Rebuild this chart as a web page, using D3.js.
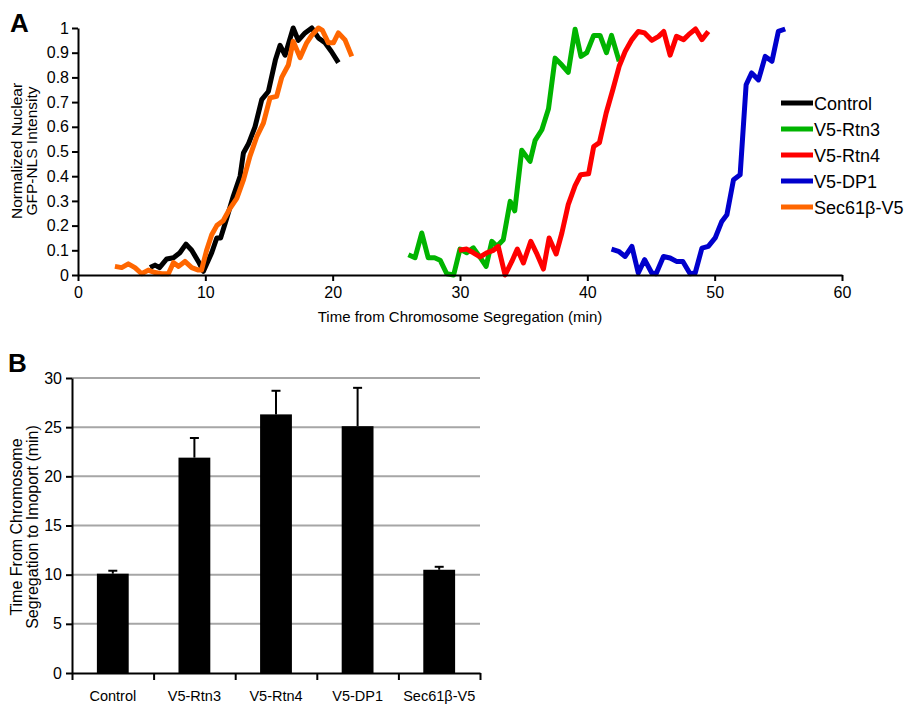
<!DOCTYPE html>
<html>
<head>
<meta charset="utf-8">
<script src="https://cdn.jsdelivr.net/npm/d3@7"></script>
<style>
  body { margin: 0; background: #fff; }
  svg { display: block; font-family: "Liberation Sans", Arial, sans-serif; }
</style>
</head>
<body>
<div id="chart"></div>
<script>
// ---- Panel A data (minutes from chromosome segregation, normalized intensity)
var controlTime = [5.66, 6.05, 6.4, 6.97, 7.5, 8.0, 8.48, 8.93, 9.45, 9.85, 10.5, 10.9, 11.2, 11.68, 12.2, 12.73, 12.99, 13.38, 13.9, 14.43, 14.95, 15.5, 15.87, 16.26, 16.9, 17.3, 17.83, 18.36, 18.88, 19.4, 19.9, 20.45];
var controlValue = [0.03, 0.04, 0.03, 0.065, 0.07, 0.09, 0.125, 0.10, 0.055, 0.015, 0.09, 0.15, 0.15, 0.23, 0.32, 0.40, 0.494, 0.53, 0.60, 0.71, 0.743, 0.87, 0.93, 0.89, 1.0, 0.95, 0.98, 1.0, 0.96, 0.94, 0.905, 0.86];

var rtn3Time = [25.95, 26.47, 27.0, 27.5, 28.0, 28.44, 28.96, 29.5, 30.0, 30.53, 31.05, 31.6, 32.05, 32.5, 32.9, 33.4, 33.94, 34.3, 34.85, 35.5, 35.9, 36.43, 36.95, 37.47, 38.0, 38.5, 39.04, 39.5, 39.96, 40.5, 41.0, 41.5, 41.9, 42.5];
var rtn3Value = [0.082, 0.07, 0.17, 0.07, 0.07, 0.06, 0.005, 0, 0.105, 0.09, 0.11, 0.07, 0.035, 0.136, 0.116, 0.143, 0.298, 0.26, 0.505, 0.46, 0.545, 0.588, 0.673, 0.878, 0.85, 0.82, 0.995, 0.885, 0.9, 0.97, 0.97, 0.9, 0.97, 0.865];

var rtn4Time = [29.9, 30.53, 31.05, 31.58, 32.1, 32.62, 33.0, 33.54, 34.07, 34.5, 34.98, 35.56, 36.0, 36.55, 37.0, 37.55, 38.0, 38.5, 39.04, 39.48, 40.1, 40.5, 40.95, 41.48, 42.0, 42.5, 42.97, 43.5, 44.0, 44.5, 45.06, 45.6, 46.0, 46.5, 47.0, 47.56, 47.95, 48.5, 49.0, 49.5];
var rtn4Value = [0.10, 0.105, 0.09, 0.073, 0.09, 0.10, 0.116, 0.0, 0.055, 0.105, 0.049, 0.136, 0.09, 0.024, 0.15, 0.085, 0.17, 0.285, 0.362, 0.406, 0.41, 0.52, 0.536, 0.656, 0.75, 0.845, 0.905, 0.953, 0.986, 0.98, 0.95, 0.966, 0.986, 0.89, 0.966, 0.953, 0.973, 0.996, 0.953, 0.986];

var dp1Time = [41.9, 42.45, 42.97, 43.5, 44.0, 44.5, 45.06, 45.4, 45.98, 46.5, 47.0, 47.5, 48.07, 48.47, 49.0, 49.5, 50.04, 50.56, 50.96, 51.48, 52.0, 52.47, 52.9, 53.44, 53.97, 54.5, 55.0, 55.54];
var dp1Value = [0.105, 0.096, 0.075, 0.116, 0.008, 0.062, 0.008, 0.005, 0.075, 0.069, 0.055, 0.055, 0.005, 0.008, 0.109, 0.116, 0.15, 0.217, 0.244, 0.386, 0.406, 0.77, 0.818, 0.79, 0.885, 0.865, 0.986, 0.996];

var secTime = [2.9, 3.43, 3.95, 4.47, 5.0, 5.52, 6.05, 6.57, 7.1, 7.49, 7.9, 8.4, 8.93, 9.45, 9.7, 10.1, 10.5, 10.9, 11.4, 11.94, 12.47, 13.0, 13.5, 14.04, 14.56, 15.08, 15.6, 16.0, 16.52, 16.9, 17.44, 17.96, 18.35, 18.88, 19.2, 19.66, 20.06, 20.45, 20.97, 21.5];
var secValue = [0.035, 0.03, 0.045, 0.03, 0.005, 0.02, 0.01, 0.005, 0.005, 0.05, 0.035, 0.055, 0.03, 0.02, 0.02, 0.10, 0.163, 0.20, 0.22, 0.27, 0.31, 0.386, 0.48, 0.56, 0.615, 0.717, 0.723, 0.80, 0.85, 0.946, 0.88, 0.94, 0.97, 1.0, 0.99, 0.94, 0.94, 0.98, 0.952, 0.885];

var seriesNames = ["Control", "V5-Rtn3", "V5-Rtn4", "V5-DP1", "Sec61β-V5"];
var seriesColors = ["#000000", "#00b400", "#ff0000", "#0000cc", "#ff6600"];

var xTicksA = [0, 10, 20, 30, 40, 50, 60];
var yTicksA = [0, 0.1, 0.2, 0.3, 0.4, 0.5, 0.6, 0.7, 0.8, 0.9, 1];

// ---- Panel B data
var barNames = ["Control", "V5-Rtn3", "V5-Rtn4", "V5-DP1", "Sec61β-V5"];
var barMean = [10.1, 21.9, 26.3, 25.1, 10.5];
var barError = [0.3, 2.0, 2.4, 3.9, 0.3];
var yTicksB = [0, 5, 10, 15, 20, 25, 30];

var svg = d3.select("#chart").append("svg")
    .attr("width", 907)
    .attr("height", 706);

// ================= Panel A =================
var x = d3.scaleLinear().domain([0, 60]).range([78, 842]);
var y = d3.scaleLinear().domain([0, 1]).range([275, 28]);

var series = [
  { time: controlTime, value: controlValue },
  { time: rtn3Time, value: rtn3Value },
  { time: rtn4Time, value: rtn4Value },
  { time: dp1Time, value: dp1Value },
  { time: secTime, value: secValue }
].map(function(s, i) {
  return {
    name: seriesNames[i],
    color: seriesColors[i],
    points: s.time.map(function(t, j) { return [t, s.value[j]]; })
  };
});

var line = d3.line()
    .x(function(d) { return x(d[0]); })
    .y(function(d) { return y(d[1]); });

var gA = svg.append("g");

// draw order: lines behind one another as in the original
[1, 2, 3, 0, 4].forEach(function(i) {
  gA.append("path")
      .datum(series[i].points)
      .attr("fill", "none")
      .attr("stroke", series[i].color)
      .attr("stroke-width", 5)
      .attr("stroke-linejoin", "round")
      .attr("d", line);
});

var xAxisA = gA.append("g")
    .attr("transform", "translate(0," + y(0) + ")")
    .call(d3.axisBottom(x).tickValues(xTicksA).tickSize(6).tickSizeOuter(0).tickPadding(6));

var yAxisA = gA.append("g")
    .attr("transform", "translate(" + x(0) + ",0)")
    .call(d3.axisLeft(y).tickValues(yTicksA).tickSize(6).tickSizeOuter(0).tickPadding(3)
      .tickFormat(function(d) { return (d === 0 || d === 1) ? String(d) : d.toFixed(1); }));

[xAxisA, yAxisA].forEach(function(ax) {
  ax.select(".domain").attr("stroke", "#000").attr("stroke-width", 2);
  ax.selectAll(".tick line").attr("stroke", "#000").attr("stroke-width", 2);
  ax.selectAll(".tick text").attr("fill", "#000").style("font-size", "16px")
      .style("font-family", "'Liberation Sans', Arial, sans-serif");
});

gA.append("text")
    .attr("x", 460)
    .attr("y", 322)
    .attr("text-anchor", "middle")
    .style("font-size", "15px")
    .text("Time from Chromosome Segregation (min)");

var yLabA = gA.append("text")
    .attr("transform", "translate(0,151) rotate(-90)")
    .attr("text-anchor", "middle")
    .style("font-size", "15.5px");
yLabA.append("tspan").attr("x", 0).attr("y", 22).text("Normalized Nuclear");
yLabA.append("tspan").attr("x", 0).attr("y", 37).text("GFP-NLS Intensity");

// legend
var legend = gA.append("g").attr("transform", "translate(781,103)");
series.forEach(function(s, i) {
  var row = legend.append("g").attr("transform", "translate(0," + (i * 26) + ")");
  row.append("line")
      .attr("x1", 0).attr("x2", 32)
      .attr("stroke", s.color)
      .attr("stroke-width", 5);
  row.append("text")
      .attr("x", 33)
      .attr("y", 6.5)
      .style("font-size", "18px")
      .text(s.name);
});

svg.append("text")
    .attr("x", 10)
    .attr("y", 32)
    .style("font-size", "26px")
    .style("font-weight", "bold")
    .text("A");

// ================= Panel B =================
var xb = d3.scaleBand().domain(barNames).range([72, 480]).paddingInner(0.61).paddingOuter(0.305);
var yb = d3.scaleLinear().domain([0, 30]).range([673, 378]);
var edge = d3.scaleLinear().domain([0, barNames.length]).range([72, 480]);

var gB = svg.append("g");

gB.selectAll(".grid")
    .data(yTicksB.filter(function(d) { return d > 0; }))
    .enter().append("line")
    .attr("class", "grid")
    .attr("x1", 72).attr("x2", 480)
    .attr("y1", function(d) { return yb(d); })
    .attr("y2", function(d) { return yb(d); })
    .attr("stroke", "#a6a6a6")
    .attr("stroke-width", 2);

// error bars (upper only visible)
gB.selectAll(".err")
    .data(barMean)
    .enter().append("line")
    .attr("class", "err")
    .attr("x1", function(d, i) { return xb(barNames[i]) + xb.bandwidth() / 2; })
    .attr("x2", function(d, i) { return xb(barNames[i]) + xb.bandwidth() / 2; })
    .attr("y1", function(d) { return yb(d); })
    .attr("y2", function(d, i) { return yb(d + barError[i]); })
    .attr("stroke", "#000")
    .attr("stroke-width", 2);

gB.selectAll(".cap")
    .data(barMean)
    .enter().append("line")
    .attr("class", "cap")
    .attr("x1", function(d, i) { return xb(barNames[i]) + xb.bandwidth() / 2 - 4.5; })
    .attr("x2", function(d, i) { return xb(barNames[i]) + xb.bandwidth() / 2 + 4.5; })
    .attr("y1", function(d, i) { return yb(d + barError[i]); })
    .attr("y2", function(d, i) { return yb(d + barError[i]); })
    .attr("stroke", "#000")
    .attr("stroke-width", 2);

gB.selectAll(".bar")
    .data(barMean)
    .enter().append("rect")
    .attr("class", "bar")
    .attr("x", function(d, i) { return xb(barNames[i]); })
    .attr("width", xb.bandwidth())
    .attr("y", function(d) { return yb(d); })
    .attr("height", function(d) { return yb(0) - yb(d); })
    .attr("fill", "#000");

var yAxisB = gB.append("g")
    .attr("transform", "translate(72,0)")
    .call(d3.axisLeft(yb).tickValues(yTicksB).tickSize(6).tickSizeOuter(0).tickPadding(4));

var xEdgeB = gB.append("g")
    .attr("transform", "translate(0," + yb(0) + ")")
    .call(d3.axisBottom(edge).tickValues(d3.range(barNames.length + 1)).tickSize(7).tickSizeOuter(0).tickFormat(""));

var xLabB = gB.append("g")
    .attr("transform", "translate(0," + yb(0) + ")")
    .call(d3.axisBottom(xb).tickSize(0).tickPadding(18));
xLabB.select(".domain").remove();

[yAxisB, xEdgeB].forEach(function(ax) {
  ax.select(".domain").attr("stroke", "#000").attr("stroke-width", 2);
  ax.selectAll(".tick line").attr("stroke", "#000").attr("stroke-width", 2);
});
yAxisB.selectAll(".tick text").attr("fill", "#000").style("font-size", "16px")
    .style("font-family", "'Liberation Sans', Arial, sans-serif");
xLabB.selectAll(".tick text").attr("fill", "#000").style("font-size", "14.5px")
    .style("font-family", "'Liberation Sans', Arial, sans-serif");

var yLabB = gB.append("text")
    .attr("transform", "translate(0,527) rotate(-90)")
    .attr("text-anchor", "middle")
    .style("font-size", "16px");
yLabB.append("tspan").attr("x", 0).attr("y", 22).text("Time From Chromosome");
yLabB.append("tspan").attr("x", 0).attr("y", 38).text("Segregation to Imoport (min)");

svg.append("text")
    .attr("x", 8)
    .attr("y", 372)
    .style("font-size", "26px")
    .style("font-weight", "bold")
    .text("B");
</script>
</body>
</html>
